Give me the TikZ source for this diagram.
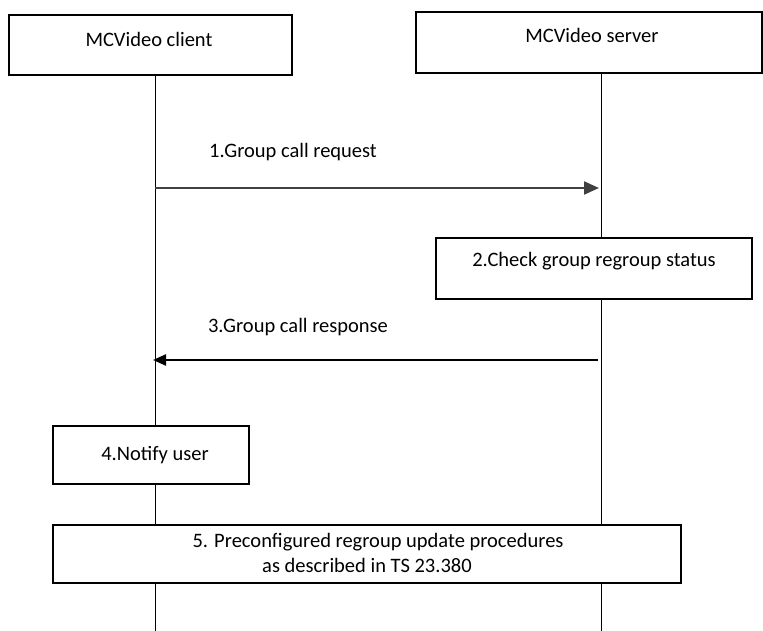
\documentclass[tikz,border=0pt]{standalone}
\usepackage{fontspec}
\setmainfont{Carlito}
\usetikzlibrary{arrows.meta}

\begin{document}
\begin{tikzpicture}[x=1pt,y=-1pt,
  box/.style={draw,fill=white,line width=1.2pt,inner sep=0pt},
  txt/.style={font=\fontsize{20.5}{25}\selectfont,align=center,inner sep=1pt},
  life/.style={line width=0.8pt}]

\useasboundingbox (0,0) rectangle (763,631);

% lifelines
\coordinate (cend) at (155,631);
\coordinate (send) at (601,631);
\draw[life] (155,75) -- (cend);
\draw[life] (601,73) -- (send);

% heads
\node[box,minimum width=283,minimum height=60] (client) at (150.5,45) {};
\node[txt] (clientlbl) at (149,39) {MCVideo client};
\node[box,minimum width=346,minimum height=61] (server) at (589,42.5) {};
\node[txt] (serverlbl) at (592,35) {MCVideo server};

% 1
\coordinate (m1a) at (155,188);
\coordinate (m1b) at (599,188);
\draw[line width=2.2pt,draw=black!75,-{Triangle[length=15pt,width=13pt]}] (m1a) -- (m1b);
\node[txt] (m1lbl) at (293,152) {1.Group call request};

% 2
\node[box,minimum width=316,minimum height=61] (check) at (594,268.5) {};
\node[txt] (checklbl) at (594,261) {2.Check group regroup status};

% 3
\coordinate (m3a) at (598,360);
\coordinate (m3b) at (153,360);
\draw[line width=2.2pt,-{Triangle[length=13pt,width=11pt]}] (m3a) -- (m3b);
\node[txt] (m3lbl) at (298,327) {3.Group call response};

% 4
\node[box,minimum width=196,minimum height=58] (notify) at (151,455) {};
\node[txt] (notifylbl) at (155,455) {4.Notify user};

% 5
\node[box,minimum width=628,minimum height=58] (proc) at (367,554) {};
\node[txt] (proclbl) at (367,553) {\hspace*{22pt}5. Preconfigured regroup update procedures\\as described in TS 23.380};
\end{tikzpicture}
\end{document}
